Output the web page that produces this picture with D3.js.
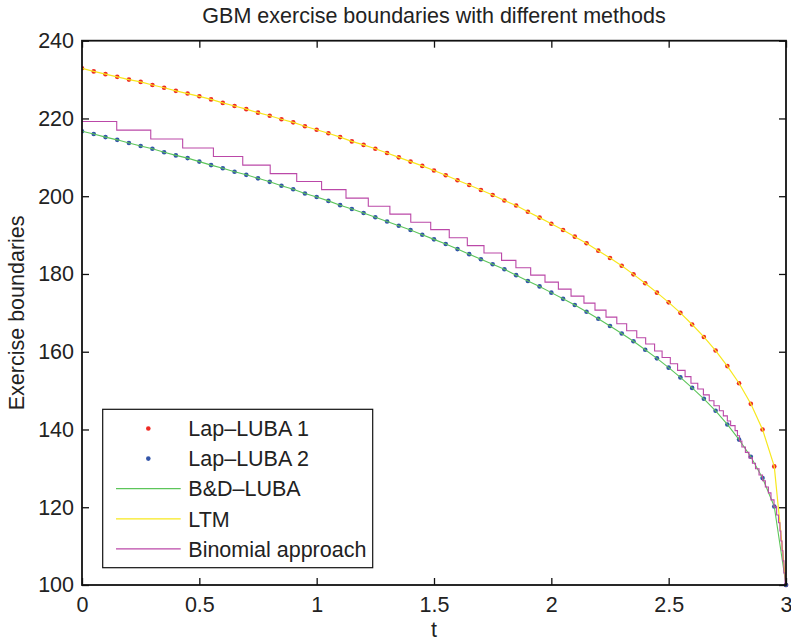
<!DOCTYPE html>
<html>
<head>
<meta charset="utf-8">
<script src="https://cdn.jsdelivr.net/npm/d3@7"></script>
<style>
  html, body { margin: 0; padding: 0; background: #fff; }
  svg text { font-family: "Liberation Sans", Arial, Helvetica, sans-serif; fill: #222; }
</style>
</head>
<body>
<svg id="chart" width="791" height="641"></svg>
<script>
// ---------- data ----------
const tGrid = [0,0.05,0.1,0.15,0.2,0.25,0.3,0.35,0.4,0.45,0.5,0.55,0.6,0.65,0.7,0.75,0.8,0.85,0.9,0.95,
  1,1.05,1.1,1.15,1.2,1.25,1.3,1.35,1.4,1.45,1.5,1.55,1.6,1.65,1.7,1.75,1.8,1.85,1.9,1.95,
  2,2.05,2.1,2.15,2.2,2.25,2.3,2.35,2.4,2.45,2.5,2.55,2.6,2.65,2.7,2.75,2.8,2.85,2.9,2.95,3];

const lapLuba1 = [232.9,232.1,231.4,230.7,230.0,229.4,228.6,227.9,227.1,226.4,225.7,224.9,224.0,223.2,222.4,221.5,220.7,219.8,219.0,218.0,
  217.1,216.2,215.2,214.1,213.2,212.2,211.1,210.0,208.9,207.8,206.6,205.4,204.1,202.9,201.6,200.3,198.9,197.6,196.0,194.5,
  192.9,191.3,189.6,187.9,186.0,184.1,182.1,179.9,177.6,175.2,172.7,170.0,167.0,163.8,160.3,156.3,151.9,146.6,140.0,130.5,100];

const lapLuba2 = [216.7,216.0,215.2,214.5,213.7,212.9,212.2,211.3,210.5,209.8,208.9,208.0,207.2,206.3,205.5,204.6,203.7,202.7,201.8,200.7,
  199.8,198.8,197.7,196.7,195.7,194.6,193.5,192.4,191.3,190.1,188.9,187.7,186.4,185.1,183.8,182.5,181.2,179.7,178.2,176.8,
  175.2,173.6,172.0,170.3,168.5,166.6,164.7,162.7,160.5,158.3,155.9,153.4,150.7,147.9,144.8,141.3,137.4,133.0,127.5,120.2,100];

const bdLuba = [216.7,216.0,215.2,214.5,213.7,212.9,212.2,211.3,210.5,209.8,208.9,208.0,207.2,206.3,205.5,204.6,203.7,202.7,201.8,200.7,
  199.8,198.8,197.7,196.7,195.7,194.6,193.5,192.4,191.3,190.1,188.9,187.7,186.4,185.1,183.8,182.5,181.2,179.7,178.2,176.8,
  175.2,173.6,172.0,170.3,168.5,166.6,164.7,162.7,160.5,158.3,155.9,153.4,150.7,147.9,144.8,141.3,137.4,133.0,127.5,120.2,100];

const ltm = [232.9,232.1,231.4,230.7,230.0,229.4,228.6,227.9,227.1,226.4,225.7,224.9,224.0,223.2,222.4,221.5,220.7,219.8,219.0,218.0,
  217.1,216.2,215.2,214.1,213.2,212.2,211.1,210.0,208.9,207.8,206.6,205.4,204.1,202.9,201.6,200.3,198.9,197.6,196.0,194.5,
  192.9,191.3,189.6,187.9,186.0,184.1,182.1,179.9,177.6,175.2,172.7,170.0,167.0,163.8,160.3,156.3,151.9,146.6,140.0,130.5,100];

// binomial approach: step start times and levels
const binomT = [0,0.148,0.293,0.429,0.560,0.685,0.802,0.915,1.021,1.125,1.220,1.312,1.401,1.486,1.565,1.642,1.713,1.788,1.849,1.912,
  1.973,2.030,2.084,2.139,2.186,2.233,2.279,2.321,2.364,2.402,2.440,2.472,2.507,2.538,2.570,2.595,2.624,2.648,2.673,2.693,
  2.716,2.733,2.750,2.764,2.783,2.793,2.802,2.812,2.827,2.842,2.857,2.870,2.885,2.900,2.912,2.925,2.936,2.949,2.960,2.968,
  2.974,2.978,2.983,2.987,2.991,2.996,3.0];
const binomV = [219.2,217.0,214.7,212.4,210.2,208.0,205.8,203.8,201.7,199.5,197.4,195.4,193.3,191.4,189.3,187.3,185.4,183.5,181.6,179.7,
  177.9,176.1,174.3,172.5,170.7,168.9,167.2,165.4,163.6,162.0,160.2,158.5,156.9,155.2,153.6,151.9,150.4,148.9,147.4,146.1,
  144.8,143.5,142.2,141.0,139.7,138.4,137.0,135.5,134.1,132.7,131.3,129.9,128.3,126.8,125.2,123.7,121.9,120.1,118.0,116.0,
  113.9,111.3,108.8,106.2,103.1,100,100];

const xTicks = [0,0.5,1,1.5,2,2.5,3];
const yTicks = [100,120,140,160,180,200,220,240];

const titleText = "GBM exercise boundaries with different methods";
const xLabel = "t";
const yLabel = "Exercise boundaries";
const legendNames = ["Lap\u2013LUBA 1","Lap\u2013LUBA 2","B&D\u2013LUBA","LTM","Binomial approach"];

// ---------- colors ----------
const cRed = "#ee2a24", cBlue = "#3355a8", cGreen = "#5cc55a", cYellow = "#f7e81e", cMag = "#bb48a8";

// ---------- layout ----------
const svg = d3.select("#chart");
const L = 82, R = 786, T = 40.7, B = 585;
const x = d3.scaleLinear().domain([0,3]).range([L,R]);
const y = d3.scaleLinear().domain([100,240]).range([B,T]);
const FS = 21.5;

const plot = svg.append("g");
svg.append("defs").append("clipPath").attr("id","clip")
  .append("rect").attr("x",L).attr("y",T-3).attr("width",R-L+3).attr("height",B-T+6);

const pg = plot.append("g").attr("clip-path","url(#clip)");

const pts1 = tGrid.map((t,i)=>[t,lapLuba1[i]]);
const pts2 = tGrid.map((t,i)=>[t,lapLuba2[i]]);
const ptsG = tGrid.map((t,i)=>[t,bdLuba[i]]);
const ptsY = tGrid.map((t,i)=>[t,ltm[i]]);
const ptsB = binomT.map((t,i)=>[t,binomV[i]]);

pg.append("g").selectAll("circle").data(pts1).join("circle")
  .attr("cx",d=>x(d[0])).attr("cy",d=>y(d[1])).attr("r",2.3).attr("fill",cRed);
pg.append("g").selectAll("circle").data(pts2).join("circle")
  .attr("cx",d=>x(d[0])).attr("cy",d=>y(d[1])).attr("r",2.3).attr("fill",cBlue);

const line = d3.line().x(d=>x(d[0])).y(d=>y(d[1]));
pg.append("path").attr("d",line(ptsG)).attr("fill","none").attr("stroke",cGreen).attr("stroke-width",1.1);
pg.append("path").attr("d",line(ptsY)).attr("fill","none").attr("stroke",cYellow).attr("stroke-width",1.2);
pg.append("path").attr("d",line.curve(d3.curveStepAfter)(ptsB)).attr("fill","none").attr("stroke",cMag).attr("stroke-width",1.1);

// ---------- axes ----------
const fmt = d => String(d);
const axB = svg.append("g").attr("transform",`translate(0,${B})`)
  .call(d3.axisBottom(x).tickValues(xTicks).tickFormat(fmt).tickSizeInner(-7).tickSizeOuter(0).tickPadding(12));
const axT = svg.append("g").attr("transform",`translate(0,${T})`)
  .call(d3.axisTop(x).tickValues(xTicks).tickFormat("").tickSizeInner(-7).tickSizeOuter(0));
const axL = svg.append("g").attr("transform",`translate(${L},0)`)
  .call(d3.axisLeft(y).tickValues(yTicks).tickFormat(fmt).tickSizeInner(-7).tickSizeOuter(0).tickPadding(8));
const axR = svg.append("g").attr("transform",`translate(${R},0)`)
  .call(d3.axisRight(y).tickValues(yTicks).tickFormat("").tickSizeInner(-7).tickSizeOuter(0));
[axB,axT,axL,axR].forEach(a=>{
  a.select(".domain").remove();
  a.selectAll(".tick line").attr("stroke","#111").attr("stroke-width",1.3);
  a.selectAll("text").attr("font-size",FS).attr("fill","#222")
    .style("font-family",'"Liberation Sans", Arial, sans-serif');
});
axB.selectAll("text").attr("dy","0.71em");
svg.append("rect").attr("x",L).attr("y",T).attr("width",R-L).attr("height",B-T)
  .attr("fill","none").attr("stroke","#111").attr("stroke-width",1.8);

// ---------- labels ----------
svg.append("text").attr("x",(L+R)/2).attr("y",23).attr("text-anchor","middle")
  .attr("font-size",FS).text(titleText);
svg.append("text").attr("x",(L+R)/2).attr("y",637).attr("text-anchor","middle")
  .attr("font-size",FS).text(xLabel);
svg.append("text").attr("transform",`translate(24,${(T+B)/2}) rotate(-90)`).attr("text-anchor","middle")
  .attr("font-size",FS).text(yLabel);

// ---------- legend ----------
const lg = svg.append("g");
lg.append("rect").attr("x",102.7).attr("y",409.3).attr("width",270).attr("height",158.4)
  .attr("fill","#fff").attr("stroke","#111").attr("stroke-width",1.2);
const legendStyles = [
  {type:"dot",color:cRed},{type:"dot",color:cBlue},
  {type:"line",color:cGreen},{type:"line",color:cYellow},{type:"line",color:cMag}];
legendNames.forEach((name,i)=>{
  const cy = 428.5 + i*30.1;
  const st = legendStyles[i];
  if (st.type==="dot") {
    lg.append("circle").attr("cx",148.3).attr("cy",cy).attr("r",2.3).attr("fill",st.color);
  } else {
    lg.append("line").attr("x1",116).attr("x2",180.7).attr("y1",cy).attr("y2",cy)
      .attr("stroke",st.color).attr("stroke-width",1.3);
  }
  lg.append("text").attr("x",188.3).attr("y",cy).attr("dy","0.36em").attr("font-size",FS).text(name);
});
</script>
</body>
</html>
